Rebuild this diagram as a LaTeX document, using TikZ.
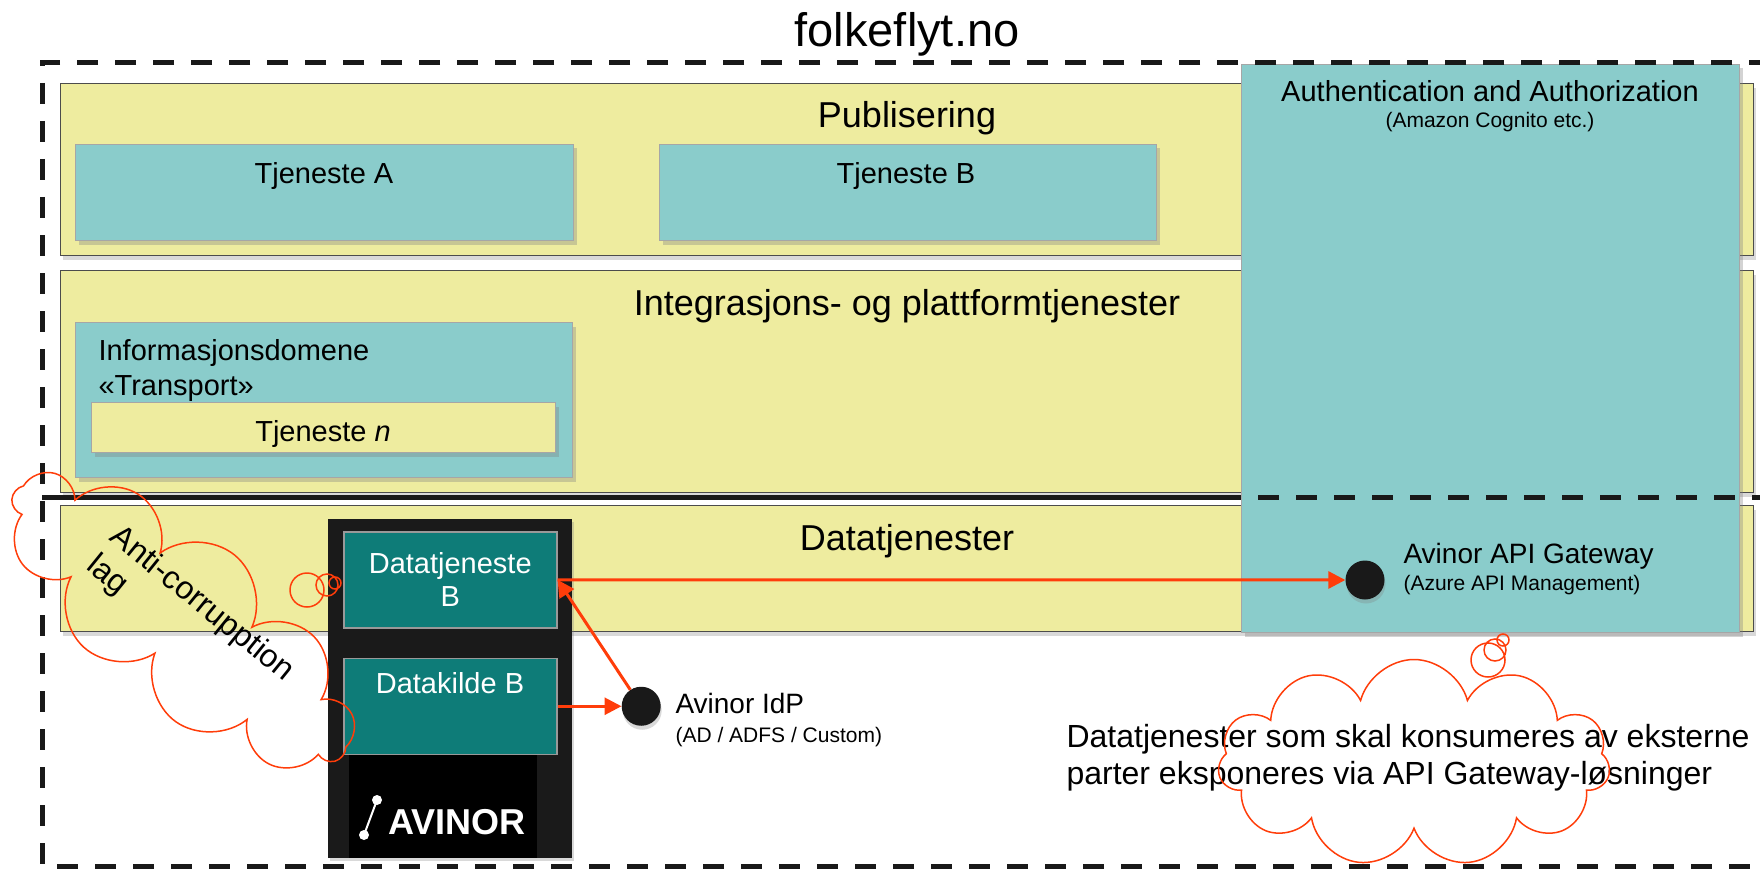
\documentclass[tikz,border=0pt]{standalone}
\usepackage{fontspec}
\setmainfont{Liberation Sans}
\usetikzlibrary{positioning,shapes.symbols,shadows,arrows.meta}
\definecolor{layeryellow}{HTML}{EEEC9F}
\definecolor{svcteal}{HTML}{8ACCCB}
\definecolor{darkteal}{HTML}{0E7C78}
\definecolor{flowred}{HTML}{FF3D0A}
\definecolor{avinorgray}{HTML}{1A1A1A}
\begin{document}
\begin{tikzpicture}[
x=1pt, y=-1pt,
layer/.style={
% The shape:
rectangle, anchor=north west, inner sep=0pt,
% The border:
draw=black!70, line width=1.2pt,
% The filling:
fill=layeryellow,
drop shadow={shadow xshift=2pt, shadow yshift=-4pt, opacity=.3}
},
svcbox/.style={
rectangle, anchor=north west, inner sep=0pt,
draw=black!35, line width=1pt,
fill=svcteal,
drop shadow={shadow xshift=3pt, shadow yshift=-4pt, opacity=.35}
},
databox/.style={
rectangle, inner sep=0pt, minimum width=213pt, minimum height=96pt,
draw=gray!80, line width=1.5pt,
fill=darkteal,
% Font
text=white, align=center, font=\fontsize{29}{33}\selectfont
},
fencedash/.style={draw=black!90, line width=5pt, dash pattern=on 21pt off 17pt},
dot/.style={circle, fill=black!90, minimum size=39pt, inner sep=0pt,
drop shadow={shadow xshift=1pt, shadow yshift=-4pt, opacity=.3}},
flow/.style={draw=flowred, line width=3pt, -{Triangle[length=17pt, width=17pt]}},
thought/.style={cloud, cloud puffs=11, cloud ignores aspect, draw=flowred, line width=1.5pt, inner sep=0pt},
bubble/.style={draw=flowred, line width=1.5pt},
bigtitle/.style={font=\fontsize{47}{56}\selectfont, anchor=base},
layertitle/.style={font=\fontsize{36}{43}\selectfont, anchor=base},
svctext/.style={font=\fontsize{29}{35}\selectfont, anchor=base},
dotlabel/.style={font=\fontsize{28}{34}\selectfont, align=left, anchor=base west}
]
\useasboundingbox (0,0) rectangle (1760,869);

% layers
\node[layer, minimum width=1693pt, minimum height=172pt] (pub) at (60,83) {};
\node[layer, minimum width=1693pt, minimum height=222pt] (intg) at (60,270) {};
\node[layer, minimum width=1693pt, minimum height=126pt] (data) at (60,505) {};
\node[bigtitle] (site) at (907,47) {folkeflyt.no};
\node[layertitle] (pubtitle) at (907,128) {Publisering};
\node[layertitle] (intgtitle) at (907,315) {Integrasjons- og plattformtjenester};
\node[layertitle] (datatitle) at (907,550) {Datatjenester};

% services
\node[svcbox, minimum width=498pt, minimum height=96pt] (ta) at (75,144) {};
\node[svcbox, minimum width=497pt, minimum height=96pt, right=85pt of ta.north east, anchor=north west] (tb) {};
\node[svctext] (tatext) at (324,183) {Tjeneste A};
\node[svctext] (tbtext) at (906,183) {Tjeneste B};
\node[svcbox, minimum width=497pt, minimum height=155pt] (info) at (75,322) {};
\node[svctext, align=left, anchor=base west] (infotext) at (95,395) {Informasjonsdomene\\«Transport»};
\node[svcbox, fill=layeryellow, minimum width=464pt, minimum height=50pt] (tn) at (91,402) {};
\node[svctext] (tntext) at (323,441) {Tjeneste \textit{n}};

% auth
\draw[line width=5pt, black!90] (42,497) -- (1241,497);
\node[svcbox, minimum width=498pt, minimum height=568pt] (auth) at (1241,64) {};
\node[svctext, align=center] (authtext) at (1490,128)
  {Authentication and Authorization\\[-9pt]{\fontsize{21}{25}\selectfont(Amazon Cognito etc.)}};

% fence
\draw[fencedash] (1770,63) -- (42,63) -- (42,866) -- (1770,866);
\draw[fencedash] (42,497) -- (1770,497);

% avinor
\node[rectangle, anchor=north west, fill=avinorgray, minimum width=244pt, minimum height=339pt,
  drop shadow={shadow xshift=2pt, shadow yshift=-3pt, opacity=.3}] (avinor) at (328,519) {};
\node[rectangle, anchor=north west, fill=black, minimum width=188pt, minimum height=105pt] (logopanel) at (349,753) {};
\coordinate (lgbot) at (364,835);
\coordinate (lgtop) at (377,800);
\draw[white, line width=2pt] (lgbot) -- (lgtop);
\fill[white] (lgbot) circle[radius=5pt] (lgtop) circle[radius=5pt];
\node[font=\bfseries\fontsize{36}{43}\selectfont, text=white, anchor=base west] (logo) at (385,834) {AVINOR};
\node[databox, anchor=north west] (dsb) at (343,531) {Datatjeneste\\B};
\node[databox, below=29pt of dsb] (dkb) {};
\node[svctext, text=white] (dkbtext) at (450,693) {Datakilde B};

% endpoints
\node[dot, right=64pt of dkb] (idp) {};
\node[dot] (gw) at (1365,580) {};
\node[dotlabel] (idptext) at (672,742) {Avinor IdP\\[-5pt]{\fontsize{21}{25}\selectfont(AD / ADFS / Custom)}};
\node[dotlabel] (gwtext) at (1400,590) {Avinor API Gateway\\[-7pt]{\fontsize{21}{25}\selectfont(Azure API Management)}};
\draw[flow] (dsb.east) -- (gw);
\draw[flow] (dkb.east) -- (idp);
\draw[flow] (idp) -- (dsb.east);

% clouds
\node[dotlabel, font=\fontsize{32}{37}\selectfont] (gwnote) at (1063,784)
  {Datatjenester som skal konsumeres av eksterne\\parter eksponeres via API Gateway-løsninger};
\node[thought, minimum width=392pt, minimum height=207pt] (gwcloud) at (1414,763) {};
\draw[bubble] (1488,660) circle[radius=17pt] (1495,650) circle[radius=11pt] (1503,640) circle[radius=6pt];
\node[thought, rotate=-39, minimum width=420pt, minimum height=170pt] (accloud) at (181,621) {};
\draw[bubble] (307,590) circle[radius=17pt] (327,585) circle[radius=11pt] (335,583) circle[radius=6pt];
\node[font=\fontsize{32}{37}\selectfont, align=left, rotate=-39] (actext) at (190,619) {Anti-corrupption\\lag};
\end{tikzpicture}
\end{document}
